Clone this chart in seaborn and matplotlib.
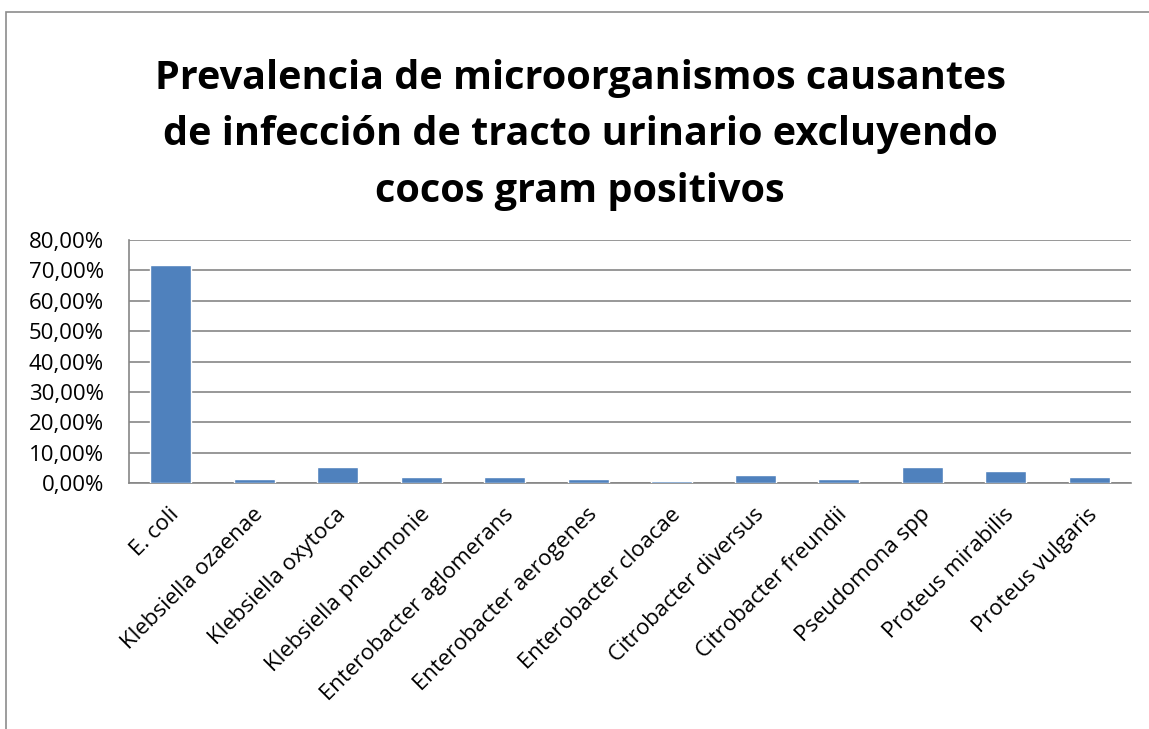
import matplotlib.pyplot as plt
import matplotlib.ticker as mticker
import matplotlib.transforms as mtrans
from matplotlib.patches import Rectangle
import seaborn as sns
import pandas as pd

categories = ["E. coli", "Klebsiella ozaenae", "Klebsiella oxytoca", "Klebsiella pneumonie",
              "Enterobacter aglomerans", "Enterobacter aerogenes", "Enterobacter cloacae",
              "Citrobacter diversus", "Citrobacter freundii", "Pseudomona spp",
              "Proteus mirabilis", "Proteus vulgaris"]
prevalence = [71.62, 1.35, 5.41, 2.03, 2.03, 1.35, 0.68, 2.70, 1.35, 5.41, 4.05, 2.03]
y_ticks = [0, 10, 20, 30, 40, 50, 60, 70, 80]
title = "Prevalencia de microorganismos causantes\nde infección de tracto urinario excluyendo\ncocos gram positivos"

sns.set_style("white")
plt.rcParams['font.family'] = ['Open Sans', 'DejaVu Sans']
plt.rcParams['text.color'] = 'black'
plt.rcParams['xtick.labelcolor'] = 'black'
plt.rcParams['ytick.labelcolor'] = 'black'

df = pd.DataFrame({"cat": categories, "val": prevalence})

fig = plt.figure(figsize=(11.49, 7.29), dpi=100)
ax = fig.add_axes([129 / 1149, 0.3374, 1002 / 1149, 0.3334])

# chart border (cropped on right and bottom)
fig.patches.append(Rectangle((0.005, -0.1), 1.2, 1.1 - 12 / 729, transform=fig.transFigure,
                             fill=False, edgecolor="#8c8c8c", linewidth=1.2))

sns.barplot(data=df, x="cat", y="val", color="#4F81BD", width=0.49, saturation=1, ax=ax, zorder=3)

ax.set_ylim(0, 80)
ax.set_xlim(-0.5, len(categories) - 0.5)
ax.set_yticks(y_ticks)
ax.yaxis.set_major_formatter(mticker.FuncFormatter(lambda v, p: f"{v:.2f}%".replace(".", ",")))
ax.yaxis.grid(True, color="#868686", linewidth=1.2, zorder=0)
ax.set_axisbelow(True)

ax.set_xticks(range(len(categories)))
ax.set_xticklabels(categories, rotation=45, ha="right", rotation_mode="anchor", fontsize=16)
ax.set_xticks([i - 0.5 for i in range(len(categories) + 1)], minor=True)
ax.tick_params(axis="x", which="major", length=0, pad=10)
ax.tick_params(axis="x", which="minor", length=6, color="#868686", width=1.2, direction="out")
ax.tick_params(axis="y", length=6, color="#868686", width=1.2, direction="out", labelsize=16, pad=12)

shift = mtrans.ScaledTranslation(-2 / 100, -7 / 100, fig.dpi_scale_trans)
for lab in ax.get_xticklabels():
    lab.set_transform(lab.get_transform() + shift)

for s in ["top", "right"]:
    ax.spines[s].set_visible(False)
for s in ["left", "bottom"]:
    ax.spines[s].set_color("#868686")
    ax.spines[s].set_linewidth(1.2)

ax.set_xlabel("")
ax.set_ylabel("")

fig.text(0.505, 1 - 135 / 729, title, ha="center", va="center", fontsize=28.5,
         fontweight="bold", linespacing=1.58)

fig.savefig("out.png", dpi=100)
